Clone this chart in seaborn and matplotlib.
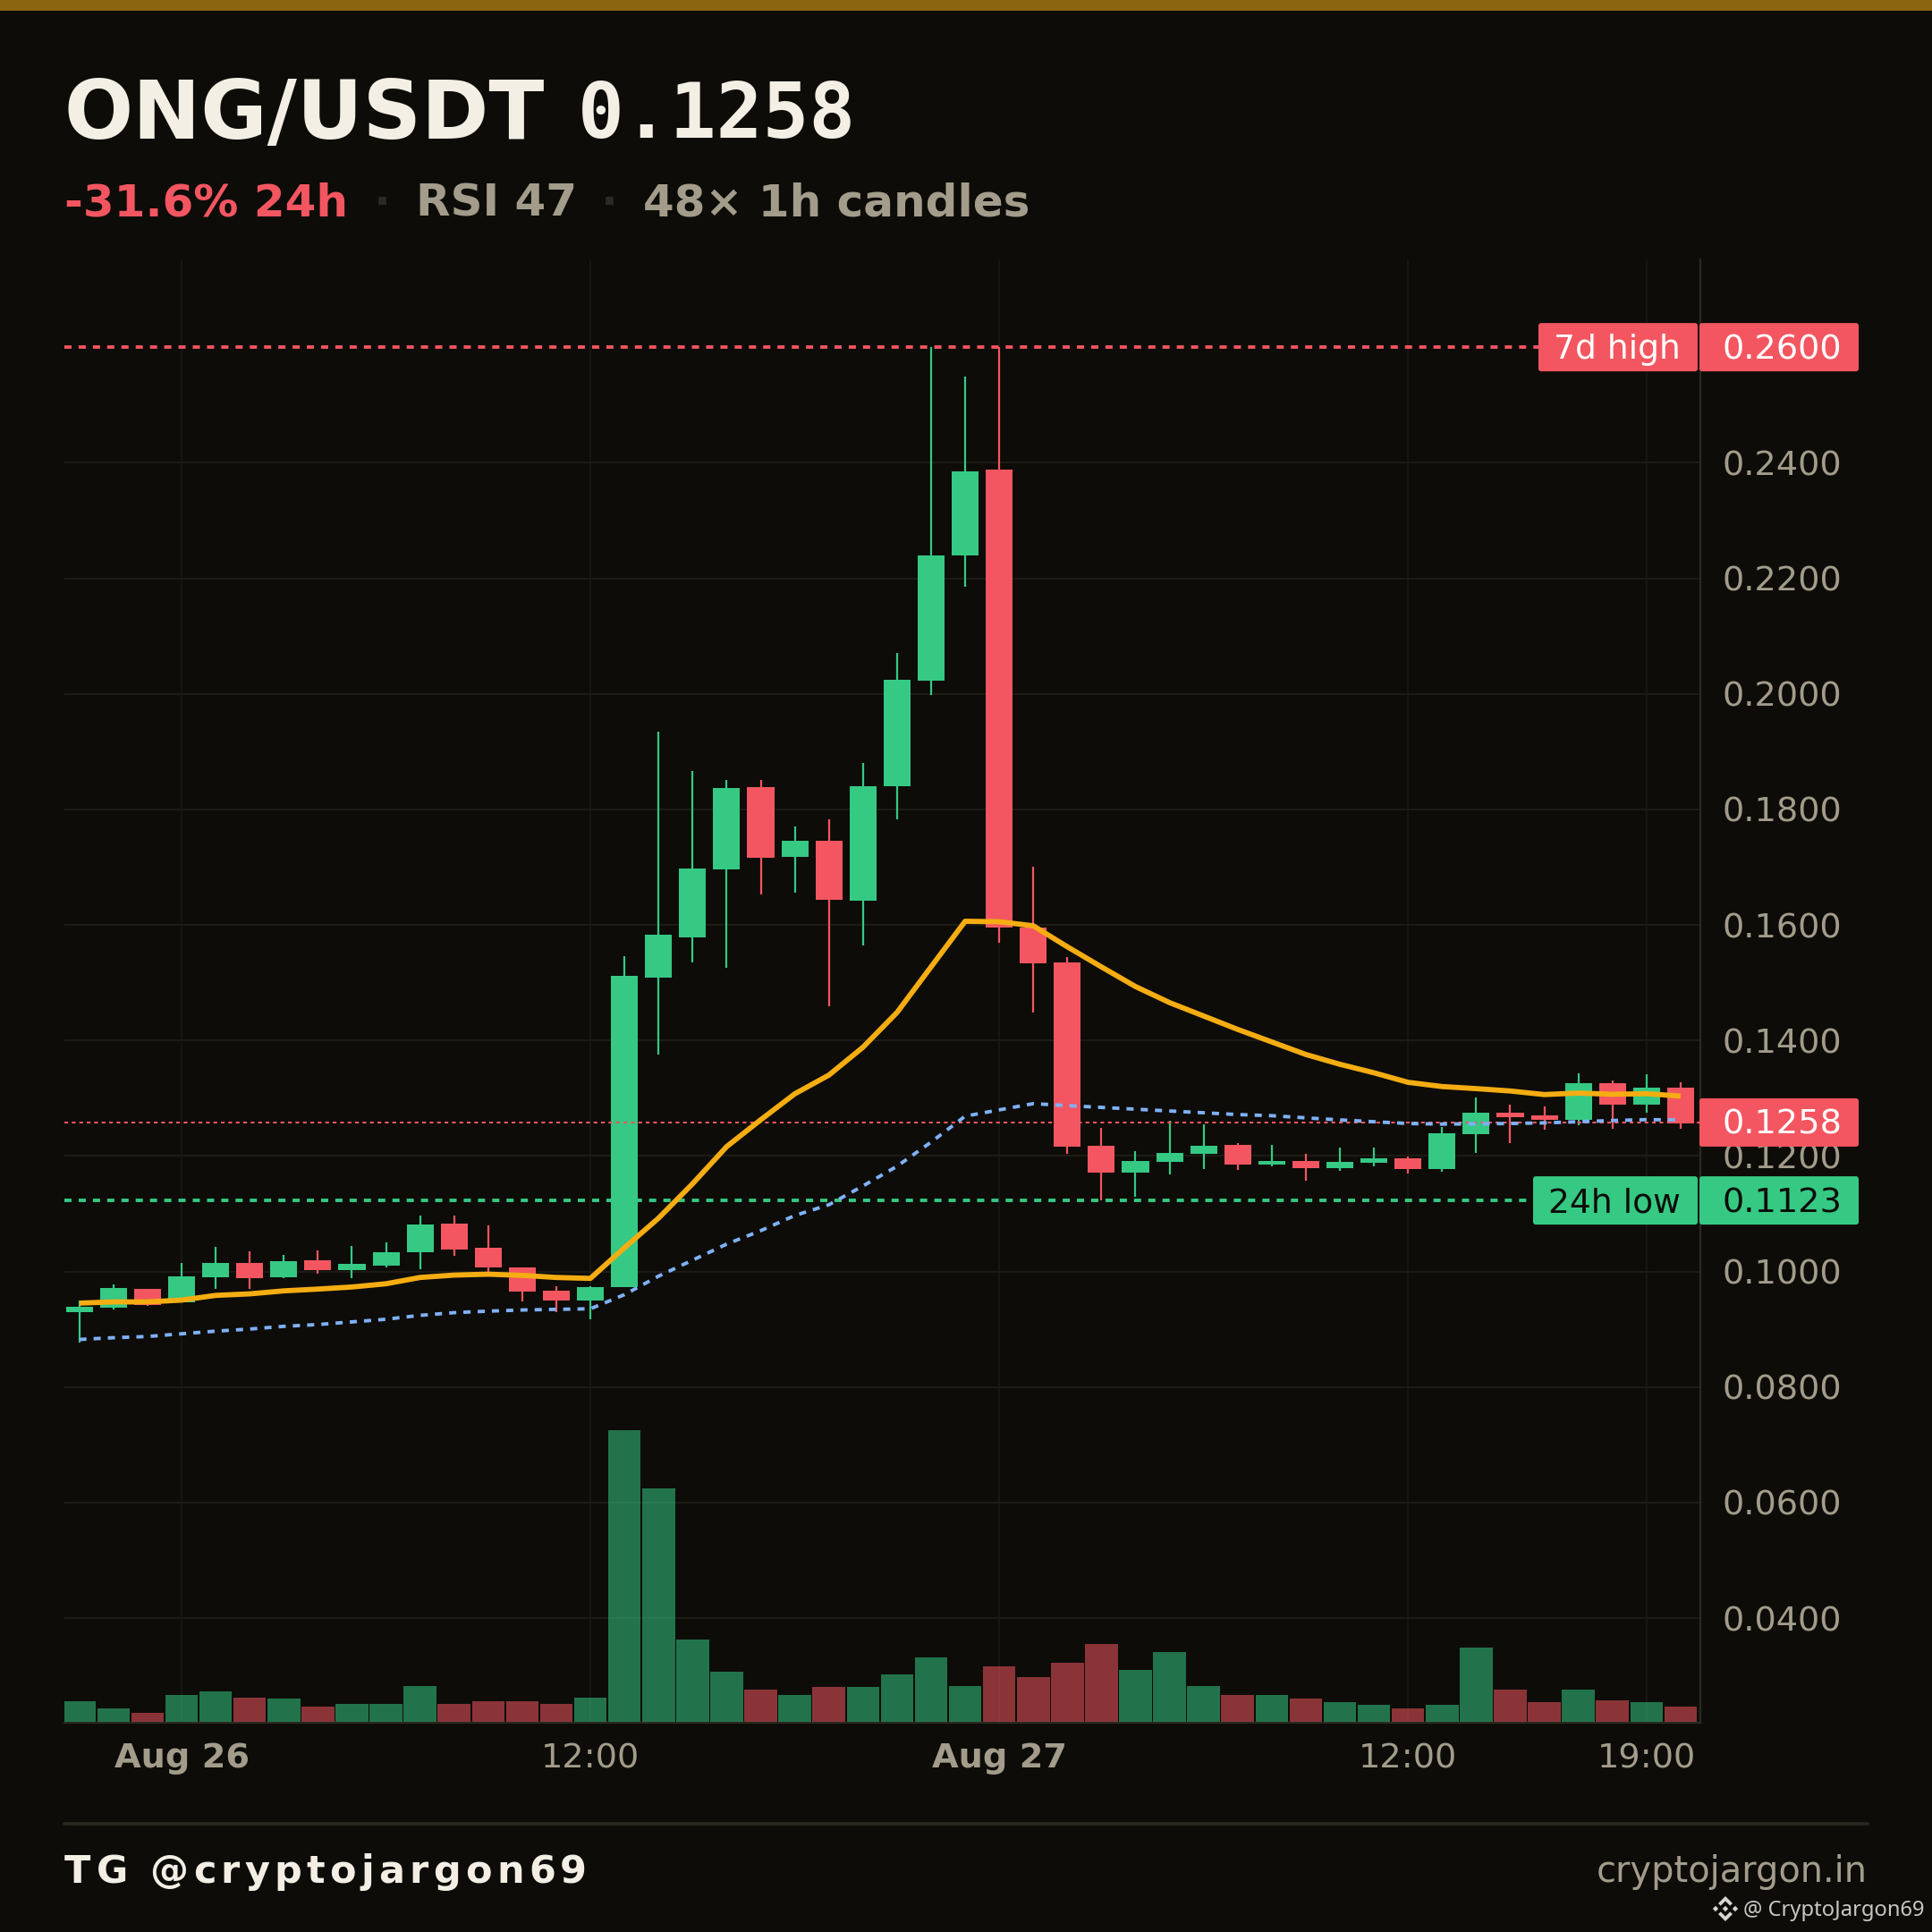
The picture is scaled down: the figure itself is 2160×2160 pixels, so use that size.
# ONG/USDT 1h candles chart card
import numpy as np
import pandas as pd
import matplotlib
matplotlib.use("Agg")
import matplotlib.pyplot as plt
import seaborn as sns
from matplotlib.lines import Line2D
from matplotlib.patches import FancyBboxPatch, Polygon, Rectangle

# ---- data ----
opens = [0.09298, 0.09381, 0.09701, 0.09469, 0.09902, 0.1015, 0.09902, 0.10196, 0.10026, 0.10103,
         0.10335, 0.10831, 0.10413, 0.10072, 0.0967, 0.09499, 0.0973, 0.15084, 0.15779, 0.16956,
         0.18385, 0.17177, 0.17453, 0.16419, 0.18401, 0.20225, 0.22389, 0.23874, 0.15961, 0.15344,
         0.12181, 0.11716, 0.11902, 0.12041, 0.12196, 0.11856, 0.11917, 0.11794, 0.11886, 0.11964,
         0.11778, 0.12382, 0.12753, 0.12707, 0.1263, 0.13264, 0.12893, 0.13187]
closes = [0.09391, 0.09716, 0.09427, 0.09917, 0.1015, 0.09886, 0.10181, 0.10026, 0.10134, 0.10335,
          0.10815, 0.10382, 0.10072, 0.09654, 0.09499, 0.09732, 0.15113, 0.15826, 0.16971, 0.18369,
          0.17161, 0.17453, 0.16434, 0.18401, 0.20241, 0.22389, 0.23858, 0.15961, 0.15329, 0.12167,
          0.11716, 0.11917, 0.12057, 0.12181, 0.11856, 0.11917, 0.11794, 0.11902, 0.11964, 0.11778,
          0.12397, 0.12753, 0.12676, 0.1263, 0.13264, 0.12893, 0.13187, 0.1257]
highs = [0.09494, 0.09778, 0.09701, 0.1015, 0.10428, 0.10351, 0.10289, 0.10366, 0.10444, 0.10506,
         0.1097, 0.1097, 0.108, 0.10072, 0.09747, 0.09747, 0.15466, 0.19341, 0.18662, 0.18504,
         0.18504, 0.17698, 0.17824, 0.18804, 0.20707, 0.26, 0.25485, 0.26, 0.17003, 0.15447,
         0.1249, 0.12088, 0.12614, 0.12552, 0.12227, 0.12196, 0.12041, 0.1215, 0.1215, 0.11995,
         0.12506, 0.13017, 0.12893, 0.12862, 0.13434, 0.13311, 0.13419, 0.1328]
lows = [0.08772, 0.09345, 0.09407, 0.0946, 0.09701, 0.09701, 0.09886, 0.09964, 0.09886, 0.10072,
        0.10041, 0.10273, 0.09985, 0.09484, 0.09298, 0.09174, 0.0973, 0.1376, 0.15344, 0.15265,
        0.16521, 0.16553, 0.14586, 0.15645, 0.17824, 0.19973, 0.21852, 0.15692, 0.14484, 0.12039,
        0.1123, 0.11298, 0.11685, 0.11778, 0.11763, 0.11825, 0.11577, 0.11747, 0.11825, 0.11701,
        0.11732, 0.12057, 0.12227, 0.12459, 0.12537, 0.12475, 0.12753, 0.12475]
volumes = [62, 38, 27, 79, 90, 71, 68, 44, 52, 54, 106, 52, 60, 62, 54, 73, 882, 706, 249, 149,
           95, 79, 103, 103, 141, 195, 108, 167, 135, 178, 235, 157, 211, 108, 81, 81, 68, 57, 51, 40,
           49, 224, 97, 57, 97, 65, 57, 46]
ema_fast = [0.09453, 0.09474, 0.09474, 0.09505, 0.09587, 0.09613, 0.09665, 0.09696, 0.09732, 0.09788,
            0.09897, 0.09938, 0.09954, 0.09933, 0.09897, 0.09881, 0.10412, 0.10924, 0.1152, 0.12162,
            0.12627, 0.13076, 0.134, 0.13882, 0.14484, 0.15274, 0.16063, 0.16055, 0.15984, 0.15621,
            0.15273, 0.14933, 0.14655, 0.14423, 0.14191, 0.13974, 0.13757, 0.13587, 0.1344, 0.13275,
            0.13202, 0.13166, 0.13125, 0.13063, 0.13089, 0.13068, 0.13078, 0.13037]
ema_slow = [0.08824, 0.08854, 0.08875, 0.08922, 0.08968, 0.09004, 0.09051, 0.09082, 0.09128, 0.09174,
            0.09241, 0.09288, 0.09314, 0.09334, 0.09345, 0.09355, 0.096, 0.0992, 0.10197, 0.10475,
            0.10707, 0.1097, 0.11156, 0.11481, 0.11822, 0.1224, 0.12689, 0.12798, 0.12906, 0.12872,
            0.12841, 0.1281, 0.12779, 0.12748, 0.12717, 0.12697, 0.1266, 0.12624, 0.12593, 0.12562,
            0.12552, 0.12557, 0.12562, 0.12573, 0.12593, 0.12614, 0.12629, 0.12624]

price_ticks = [0.04, 0.06, 0.08, 0.10, 0.12, 0.14, 0.16, 0.18, 0.20, 0.22, 0.24]
time_ticks = [3, 15, 27, 39, 46]
time_labels = ["Aug 26", "12:00", "Aug 27", "12:00", "19:00"]
bold_times = ["Aug 26", "Aug 27"]
high_7d = 0.26
low_24h = 0.1123
last_price = 0.1258

BG = "#0d0c08"
GREEN = "#35c983"
RED = "#f35660"
ORANGE = "#f5ad12"
BLUE = "#7fb1f7"
MUTED = "#a39c8b"
CREAM = "#f4efe4"
GRID = "#1c1b16"
EDGE = "#2b2a22"

sns.set_theme(style="dark", rc={
    "figure.facecolor": BG, "axes.facecolor": BG, "savefig.facecolor": BG,
    "axes.edgecolor": EDGE, "axes.grid": True, "grid.color": GRID, "grid.linewidth": 0.75,
    "xtick.color": MUTED, "ytick.color": MUTED, "text.color": CREAM})
plt.rcParams["font.family"] = ["DejaVu Sans"]

df = pd.DataFrame({"i": np.arange(len(opens)), "open": opens, "close": closes, "high": highs,
                   "low": lows, "vol": volumes, "fast": ema_fast, "slow": ema_slow})
df["up"] = df["close"] >= df["open"]
df["base"] = df[["open", "close"]].min(axis=1)
df["body"] = (df["close"] - df["open"]).abs()

W = 2160
fig = plt.figure(figsize=(10.8, 10.8), dpi=200)
ax = fig.add_axes([72 / W, 1 - 1926 / W, (1901 - 72) / W, (1926 - 290) / W])
ax_vol = ax.twinx()

# ---- volume ----
sns.barplot(data=df, x="i", y="vol", hue="up", palette={True: GREEN, False: RED}, native_scale=True,
            width=0.96, alpha=0.55, saturation=1, linewidth=0, legend=False, errorbar=None, ax=ax_vol)
ax_vol.set_ylim(-4, 4426)
ax_vol.set_yticks([])
ax_vol.set_ylabel("")
ax_vol.grid(False)
for s in ax_vol.spines.values():
    s.set_visible(False)

# ---- candles ----
ax.axhline(high_7d, color=RED, lw=1.4, ls=(0, (2.05, 2.05)), zorder=1.5)
ax.axhline(low_24h, color=GREEN, lw=1.4, ls=(0, (2.05, 2.05)), zorder=1.5)
ax.axhline(last_price, color=RED, lw=0.75, ls=(0, (2, 2)), zorder=4)

for up, col in [(True, GREEN), (False, RED)]:
    sub = df[df["up"] == up]
    ax.vlines(sub["i"], sub["low"], sub["high"], colors=col, linewidth=0.8, zorder=2)
    sns.barplot(data=sub, x="i", y="body", bottom=sub["base"].values, native_scale=True, color=col,
                width=0.79, saturation=1, linewidth=0, errorbar=None, zorder=3, ax=ax)

sns.lineplot(data=df, x="i", y="slow", color=BLUE, linewidth=1.4, linestyle=(0, (2.05, 2.05)),
             errorbar=None, zorder=5, ax=ax)
sns.lineplot(data=df, x="i", y="fast", color=ORANGE, linewidth=2.1, errorbar=None, zorder=6,
             solid_capstyle="butt", ax=ax)

ax.set_xlim(-0.44, 47.58)
ax.set_ylim(0.0219, 0.2752)
ax.set_xticks(time_ticks)
ax.set_xticklabels(time_labels)
ax.set_yticks(price_ticks)
ax.set_yticklabels([f"{v:.4f}" for v in price_ticks])
ax.yaxis.tick_right()
ax.tick_params(axis="y", length=0, pad=9, labelsize=13.75, labelright=True, labelleft=False)
ax.tick_params(axis="x", length=0, pad=8, labelsize=13.75)
for lab in ax.get_xticklabels():
    if lab.get_text() in bold_times:
        lab.set_fontweight("bold")
ax.set_xlabel("")
ax.set_ylabel("")
ax.spines["top"].set_visible(False)
ax.spines["left"].set_visible(False)
ax.spines["right"].set_linewidth(0.8)
ax.spines["bottom"].set_linewidth(0.8)
ax.grid(True, axis="y", color=GRID, linewidth=0.75)
ax.grid(True, axis="x", color="#171612", linewidth=0.75)


# ---- price tags, figure fractions so they stay on the data level ----
def level_px(v):
    return fig.dpi * fig.get_figheight() - ax.transData.transform((0, v))[1]


def tag(v, x0, x1, color, text, text_color, text_x, ha, size=13.75):
    y = level_px(v)
    fig.add_artist(FancyBboxPatch((x0 / W, 1 - (y + 24) / W), (x1 - x0) / W, 48 / W, transform=fig.transFigure,
                                  boxstyle=f"round,pad={3 / W},rounding_size={3 / W}", fc=color, ec="none",
                                  zorder=5, mutation_aspect=1))
    fig.text(text_x / W, 1 - (y - 1) / W, text, color=text_color, fontsize=size, ha=ha, va="center_baseline", zorder=6)


tag(high_7d, 1723, 1895, RED, "7d high", "white", 1879, "right", 13.55)
tag(high_7d, 1903, 2075, RED, f"{high_7d:.4f}", "white", 1926, "left")
tag(last_price, 1903, 2075, RED, f"{last_price:.4f}", "white", 1926, "left")
tag(low_24h, 1717, 1895, GREEN, "24h low", BG, 1879, "right", 13.55)
tag(low_24h, 1903, 2075, GREEN, f"{low_24h:.4f}", BG, 1926, "left")

# ---- header ----
fig.add_artist(Rectangle((0, 1 - 12 / W), 1, 12 / W, transform=fig.transFigure, fc="#8b6510", ec="none"))
fig.text(72 / W, 1 - 155 / W, "ONG/USDT", fontsize=32.7, fontweight="bold", color=CREAM, va="baseline")
fig.text(646 / W, 1 - 154 / W, "0.1258", fontsize=31, fontweight="bold", family="DejaVu Sans Mono",
         color=CREAM, va="baseline")
fig.text(72 / W, 1 - 242 / W, "-31.6% 24h", fontsize=18.0, fontweight="bold", color=RED, va="baseline")
fig.text(418 / W, 1 - 242 / W, "·", fontsize=18.0, fontweight="bold", color="#2b2a22", va="baseline")
fig.text(465 / W, 1 - 242 / W, "RSI 47", fontsize=18.0, fontweight="bold", color=MUTED, va="baseline")
fig.text(672 / W, 1 - 242 / W, "·", fontsize=18.0, fontweight="bold", color="#2b2a22", va="baseline")
fig.text(719 / W, 1 - 242 / W, "48× 1h candles", fontsize=18.0, fontweight="bold", color=MUTED, va="baseline")

# ---- footer ----
fig.add_artist(Line2D([72 / W, 2088 / W], [1 - 2038.5 / W] * 2, transform=fig.transFigure, color=EDGE, lw=1.3))
renderer = fig.canvas.get_renderer()


def text_w(s, **kw):
    t = fig.text(0, 0, s + "T", **kw)
    w1 = t.get_window_extent(renderer).width
    t.set_text("T")
    w0 = t.get_window_extent(renderer).width
    t.remove()
    return w1 - w0


handle = "TG @cryptojargon69"
hkw = dict(fontsize=15.5, fontweight="bold")
for k, ch in enumerate(handle):
    fig.text((72 + text_w(handle[:k], **hkw) + k * 5.3) / W, 1 - 2105 / W, ch, color=CREAM, va="baseline", **hkw)
fig.text(2088 / W, 1 - 2104 / W, "cryptojargon.in", fontsize=14.35, color=MUTED, ha="right", va="baseline")

# watermark with the small diamond logo
fig.text(1949 / W, 1 - 2141.5 / W, "@ CryptoJargon69", fontsize=8.55, family="Noto Sans", color="#c9c7c2", va="baseline")
logo_shapes = [
    [(0, -14), (8, -6), (5.2, -3.4), (0, -8.6), (-5.2, -3.4), (-8, -6)],
    [(0, 14), (8, 6), (5.2, 3.4), (0, 8.6), (-5.2, 3.4), (-8, 6)],
    [(0, -3.2), (3.2, 0), (0, 3.2), (-3.2, 0)],
    [(-11, -3.2), (-7.8, 0), (-11, 3.2), (-14.2, 0)],
    [(11, -3.2), (14.2, 0), (11, 3.2), (7.8, 0)],
]
for shape in logo_shapes:
    pts = [((1929 + dx) / W, 1 - (2134 + dy) / W) for dx, dy in shape]
    fig.add_artist(Polygon(pts, closed=True, transform=fig.transFigure, fc="#d8d6d0", ec="none"))

fig.savefig("out.png", dpi=200, facecolor=BG)
